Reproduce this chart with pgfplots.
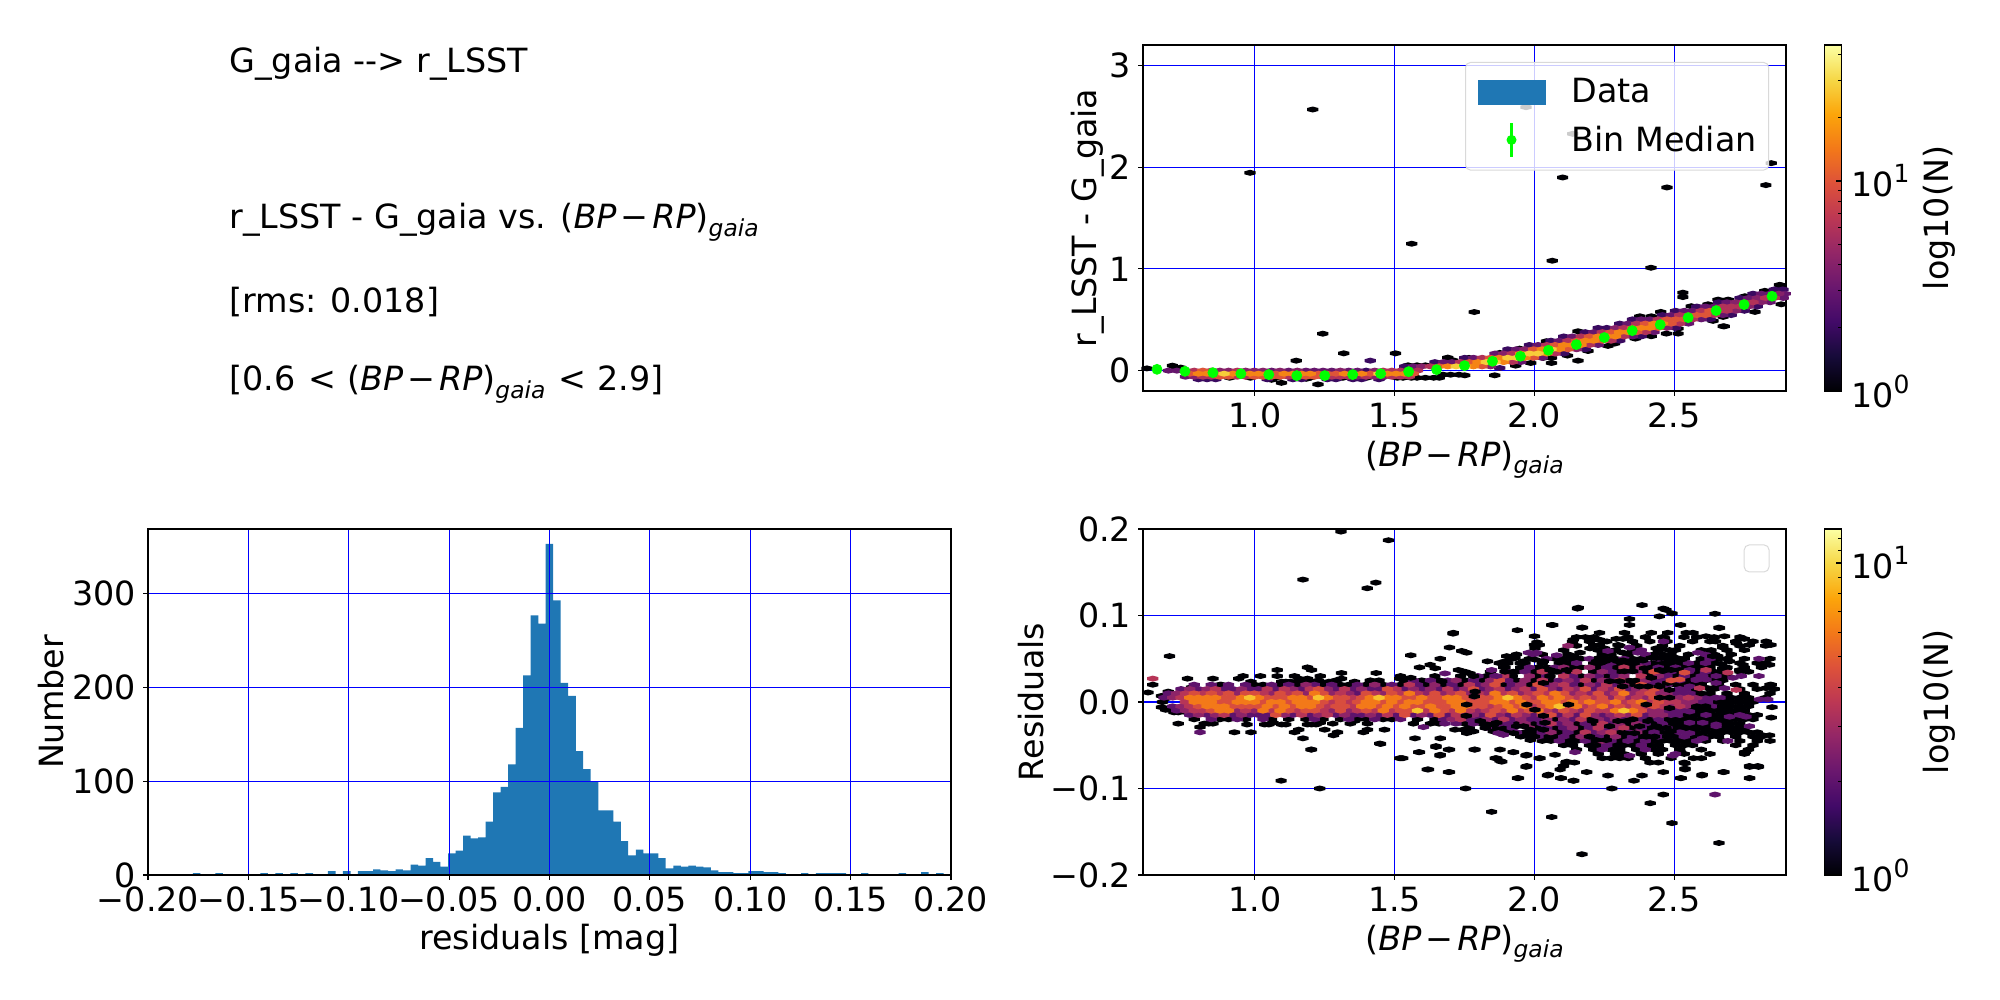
\documentclass[border=0pt]{standalone}
\usepackage{fontspec}
\setmainfont{DejaVu Sans}
\usepackage{pgfplots}
\pgfplotsset{compat=1.18}
\newcommand\fs{\fontsize{16.67pt}{20pt}\selectfont}
\newcommand\fsm{\fontsize{11.7pt}{12pt}\selectfont}
\newcommand\bprp{(\textit{BP}\hspace{.12em}−\hspace{.12em}\textit{RP})\raisebox{-.22em}{\fsm\textit{gaia}}}
\newcommand\tenp[1]{10\raisebox{.42em}{\fontsize{12.5pt}{13pt}\selectfont #1}}
\definecolor{tabblue}{RGB}{31,119,180}
\pgfdeclareplotmark{hexb}{%
  \pgfpathmoveto{\pgfqpoint{2.8pt}{-.75pt}}\pgfpathlineto{\pgfqpoint{2.8pt}{.75pt}}%
  \pgfpathlineto{\pgfqpoint{0pt}{1.5pt}}\pgfpathlineto{\pgfqpoint{-2.8pt}{.75pt}}%
  \pgfpathlineto{\pgfqpoint{-2.8pt}{-.75pt}}\pgfpathlineto{\pgfqpoint{0pt}{-1.5pt}}%
  \pgfpathclose\pgfusepathqfill}
\pgfplotsset{
  colormap={inferno}{rgb255=(0,0,4) rgb255=(22,11,57) rgb255=(66,10,104) rgb255=(106,23,110) rgb255=(147,38,103) rgb255=(188,55,84) rgb255=(221,81,58) rgb255=(243,120,25) rgb255=(252,165,10) rgb255=(246,215,70) rgb255=(252,255,164)},
  tick label style={font=\fs},
  label style={font=\fs},
  hx/.style={scatter, only marks, mark=hexb, point meta=#1},
  panel/.style={
    scale only axis, anchor=south west,
    tick align=outside, major tick length=2.45pt,
    tick style={black, line width=.55pt},
    axis line style={line width=.55pt},
    xtick pos=bottom, ytick pos=left,
    grid=major, grid style={blue, line width=.6pt},
    axis on top,
  },
  cbar/.style={
    colorbar,
    colorbar style={
      at={(parent axis.south east)}, anchor=south west, xshift=10.5pt,
      width=8.5pt, height=173pt,
      scale only axis,
      axis line style={line width=.55pt},
      tick style={black, line width=.55pt},
      major tick length=2.45pt, minor tick length=1.4pt,
      ytick pos=right, yticklabel pos=right,
      tick label style={font=\fs, xshift=1.5pt},
      ylabel={log10(N)},
      ylabel style={font=\fs, at={(axis description cs:6.8,.5)}, anchor=center},
      #1
    },
  },
}
\begin{document}
\begin{tikzpicture}
\useasboundingbox (0,0) rectangle (1000pt,500pt);

\node[anchor=base west, font=\fs, inner sep=0pt] at (114.5pt,463.65pt) {G\_gaia -{}-{}> r\_LSST};
\node[anchor=base west, font=\fs, inner sep=0pt] at (114.5pt,385.5pt) {r\_LSST - G\_gaia vs. \bprp};
\node[anchor=base west, font=\fs, inner sep=0pt] at (114.5pt,343.5pt) {[rms: 0.018]};
\node[anchor=base west, font=\fs, inner sep=0pt] at (114.5pt,304.65pt) {[0.6\hspace{.08em} < \bprp{}\hspace{.08em} < 2.9]};

% histogram of residuals
\begin{axis}[panel, at={(74pt,62.5pt)}, width=401.5pt, height=173pt,
  xmin=-0.2, xmax=0.2, ymin=0, ymax=369,
  xtick={-0.2,-0.15,-0.1,-0.05,0,0.05,0.1,0.15,0.2},
  xticklabels={−0.20,−0.15,−0.10,−0.05,0.00,0.05,0.10,0.15,0.20},
  ytick={0,100,200,300}, yticklabels={0,100,200,300},
  xlabel={residuals [mag]}, ylabel={Number},
  xlabel style={at={(axis description cs:.5,-.188)}, anchor=center},
  ylabel style={at={(axis description cs:-.1208,.5)}, anchor=center},
]
\addplot[const plot, fill=tabblue, draw=none] coordinates {
(-.1814,0)(-.1777,2)(-.1739,0)(-.1702,0)(-.1665,2)(-.1627,0)(-.1590,0)(-.1553,0)(-.1515,0)(-.1478,0)
(-.1440,2)(-.1403,0)(-.1365,2)(-.1328,0)(-.1291,2)(-.1253,0)(-.1216,2)(-.1178,0)(-.1141,0)(-.1104,4)
(-.1066,0)(-.1029,4)(-.0991,0)(-.0954,4)(-.0917,4)(-.0879,6)(-.0842,5)(-.0804,4)(-.0767,6)(-.0730,5)
(-.0692,11)(-.0655,10)(-.0617,18)(-.0580,14)(-.0543,9)(-.0505,23)(-.0468,26)(-.0430,42)(-.0393,39)(-.0356,40)
(-.0318,57)(-.0281,88)(-.0243,94)(-.0206,118)(-.0169,157)(-.0131,213)(-.0094,277)(-.0056,268)(-.0019,353)(.0018,293)
(.0056,205)(.0093,191)(.0131,132)(.0168,113)(.0205,100)(.0243,69)(.0280,69)(.0318,57)(.0355,36)(.0392,21)
(.0430,27)(.0467,23)(.0505,23)(.0542,18)(.0579,7)(.0617,10)(.0654,9)(.0692,10)(.0729,9)(.0766,8)
(.0804,5)(.0841,3)(.0879,3)(.0916,2)(.0953,2)(.0991,4)(.1028,4)(.1066,3)(.1103,3)(.1140,2)
(.1178,0)(.1215,0)(.1253,2)(.1290,0)(.1327,2)(.1365,2)(.1402,2)(.1440,2)(.1477,0)(.1514,0)
(.1552,2)(.1589,0)(.1627,0)(.1664,0)(.1701,0)(.1739,2)(.1776,0)(.1814,0)(.1851,3)(.1888,0)
(.1926,2)(.1963,0)} \closedcycle;
\end{axis}

% colour vs colour, hexagon cells
\begin{axis}[panel, cbar={ytick={0,1}, yticklabels={\tenp{0},\tenp{1}}, minor ytick={.301,.477,.602,.699,.778,.845,.903,.954,1.301,1.477,1.602}},
  at={(571.5pt,304.5pt)}, width=321.5pt, height=173pt,
  xmin=0.6, xmax=2.9, ymin=-0.2, ymax=3.2,
  colormap name=inferno, point meta min=0, point meta max=1.648,
  xtick={1,1.5,2,2.5}, xticklabels={1.0,1.5,2.0,2.5},
  ytick={0,1,2,3}, yticklabels={0,1,2,3},
  xlabel={\bprp}, ylabel={r\_LSST - G\_gaia},
  xlabel style={at={(axis description cs:.5,-.198)}, anchor=center},
  ylabel style={at={(axis description cs:-.0855,.5)}, anchor=center},
]
\addplot[hx=0] coordinates {
(1.207,2.566)(.983,1.944)(1.561,1.247)(1.970,2.589)(2.137,2.327)(2.101,1.898)(2.474,1.800)(2.828,1.823)(2.847,2.039)
(2.064,1.080)(2.417,1.011)(1.785,.576)(1.243,.363)(1.318,.170)(1.148,.098)(1.503,.170)(2.531,.766)(2.531,.723)(2.882,.838)(2.679,.435)
(.614,.022)(.705,.049)(.719,.025)(.735,.03)(.779,-.05)(.91,-.07)(.984,-.07)(1.077,-.07)(1.095,-.12)(1.06,-.09)(1.184,-.08)(1.196,-.07)(1.226,-.135)
(1.315,-.07)(1.40,-.07)(1.45,-.07)(1.51,-.07)(1.56,-.07)(1.58,-.07)(1.61,-.07)(1.64,-.07)(1.66,-.07)(1.53,-.07)
(1.548,.052)(1.58,.052)(1.61,.052)(1.69,.128)(1.708,.102)(1.655,.075)(1.673,-.04)(1.70,-.04)(1.73,-.04)
(1.751,-.046)(1.858,-.046)(1.766,.125)(1.876,.174)(1.933,.049)(1.987,.075)(1.947,.216)(2.043,.289)(2.031,.125)(2.061,.125)(2.061,.075)(2.118,.148)
(2.156,.098)(2.156,.387)(2.174,.364)(2.192,.193)(2.263,.243)(2.287,.266)(2.361,.315)(2.418,.338)(2.472,.364)(2.514,.364)(2.514,.413)
(2.377,.534)(2.418,.534)(2.452,.577)(2.561,.633)(2.621,.652)(2.657,.698)(2.693,.698)(2.675,.436)(2.639,.489)(2.675,.528)(2.753,.731)(2.789,.577)(2.824,.784)(2.877,.843)(2.877,.807)(2.883,.652)};
\addplot[hx=.301] coordinates {
(1.413,.098)(1.876,.026)(.798,-.085)(.829,-.085)(.860,-.085)(1.044,-.085)(1.136,-.085)(1.167,-.085)(1.259,-.085)(1.290,-.085)(1.351,-.085)(1.382,-.085)(1.444,-.085)(1.398,0)
(1.536,.042)(1.644,.084)(1.751,.126)(2.105,.168)(1.905,.21)(2.182,.21)(1.982,.252)(2.059,.294)(2.305,.294)(2.105,.336)(2.382,.336)(2.182,.378)(2.228,.42)(2.259,.42)(2.505,.42)
(2.305,.462)(2.351,.504)(2.628,.504)(2.458,.546)(2.704,.546)(2.505,.588)(2.751,.588)(2.581,.63)(2.797,.63)(2.659,.672)(2.735,.714)(2.782,.756)(2.858,.798)(2.889,.798)};
\addplot[hx=.477] coordinates {
(.691,0)(.721,0)(1.060,0)(1.121,0)(1.183,0)(1.213,0)(1.244,0)(1.275,0)(1.336,0)(1.367,0)(.752,-.06)
(1.567,.042)(1.675,.084)(1.705,.084)(1.951,.084)(1.782,.126)(2.028,.126)(1.859,.168)(1.936,.21)(2.013,.252)(2.228,.252)(2.089,.294)(2.136,.336)(2.351,.336)(2.212,.378)(2.428,.378)
(2.335,.462)(2.551,.462)(2.382,.504)(2.413,.504)(2.597,.504)(2.489,.546)(2.674,.546)(2.536,.588)(2.566,.588)(2.612,.63)(2.643,.63)(2.689,.672)(2.843,.672)(2.766,.714)(2.89,.714)(2.812,.756)(2.843,.756)(2.897,.756)};
\addplot[hx=.602] coordinates {
(.752,0)(.875,0)(.906,0)(.967,0)(.998,0)(1.029,0)(1.090,0)(1.152,0)(1.306,0)(1.429,0)(1.552,0)(.783,-.06)(1.367,-.06)(1.429,-.06)(1.459,-.06)
(1.597,.042)(1.843,.042)(1.890,.168)(1.966,.21)(2.151,.21)(2.290,.42)(2.474,.42)(2.720,.588)(2.766,.63)(2.720,.672)(2.812,.672)(2.797,.714)(2.874,.756)};
\addplot[hx=.78] coordinates {
(.783,0)(.844,0)(.937,0)(1.459,0)(1.490,0)(1.521,0)(1.582,0)
(.814,-.06)(.844,-.06)(.937,-.06)(.967,-.06)(1.121,-.06)(1.244,-.06)(1.275,-.06)(1.306,-.06)(1.336,-.06)(1.398,-.06)(1.490,-.06)(1.521,-.06)(1.552,-.06)
(1.628,.042)(1.736,.084)(1.921,.084)(1.813,.126)(1.921,.168)(2.074,.168)(2.044,.252)(2.197,.252)(2.120,.294)(2.274,.294)(2.167,.336)(2.320,.336)(2.243,.378)(2.397,.378)(2.320,.42)
(2.366,.462)(2.520,.462)(2.443,.504)(2.566,.504)(2.520,.546)(2.551,.546)(2.643,.546)(2.597,.588)(2.659,.588)(2.689,.588)(2.674,.63)(2.704,.63)(2.735,.63)(2.751,.672)(2.782,.672)(2.827,.714)(2.858,.714)};
\addplot[hx=1.0] coordinates {
(.814,0)(.767,-.03)(.859,-.03)(1.075,-.03)(1.228,-.03)(1.259,-.03)(1.290,-.03)(1.351,-.03)(1.413,-.03)(1.567,-.03)
(.875,-.06)(.906,-.06)(.998,-.06)(1.029,-.06)(1.060,-.06)(1.090,-.06)(1.152,-.06)(1.183,-.06)(1.213,-.06)
(1.659,.042)(1.813,.042)(1.767,.084)(1.843,.126)(1.997,.126)(1.997,.21)(2.120,.21)(2.074,.252)(2.151,.294)(2.243,.294)(2.197,.336)(2.274,.378)(2.366,.378)(2.351,.42)(2.443,.42)
(2.397,.462)(2.489,.462)(2.474,.504)(2.505,.504)(2.536,.504)(2.581,.546)(2.612,.546)(2.628,.588)};
\addplot[hx=1.2] coordinates {
(.798,-.03)(.829,-.03)(.921,-.03)(.952,-.03)(.982,-.03)(1.013,-.03)(1.044,-.03)(1.105,-.03)(1.136,-.03)(1.167,-.03)(1.198,-.03)(1.321,-.03)(1.382,-.03)(1.474,-.03)(1.505,-.03)(1.536,-.03)
(1.690,.042)(1.782,.042)(1.798,.084)(1.890,.084)(1.874,.126)(1.966,.126)(1.951,.168)(2.044,.168)(2.028,.21)(2.089,.21)(2.105,.252)(2.136,.252)(2.167,.252)(2.182,.294)(2.212,.294)
(2.228,.336)(2.259,.336)(2.290,.336)(2.305,.378)(2.335,.378)(2.382,.42)(2.413,.42)(2.428,.462)(2.458,.462)};
\addplot[hx=1.45] coordinates {
(.890,-.03)(1.444,-.03)(1.720,.042)(1.751,.042)(1.828,.084)(1.859,.084)(1.905,.126)(1.936,.126)(1.982,.168)(2.013,.168)(2.059,.21)};
\end{axis}

% bin medians and legend sit above the grid lines
\begin{axis}[scale only axis, anchor=south west, hide axis,
  at={(571.5pt,304.5pt)}, width=321.5pt, height=173pt,
  xmin=0.6, xmax=2.9, ymin=-0.2, ymax=3.2,
  legend style={at={(.5008,.951)}, anchor=north west, draw=black!15, line width=.5pt, rounded corners=2.5pt,
    fill=white, fill opacity=.8, text opacity=1, font=\fs,
    inner xsep=4pt, inner ysep=6pt, row sep=6pt},
  legend cell align=left,
]
\addlegendimage{legend image code/.code={\fill[tabblue, sharp corners, draw=none, fill opacity=1] (2pt,-6.25pt) rectangle (36pt,6.25pt); \path[draw=none, fill=none] (0pt,0pt)--(47pt,0pt);}}
\addlegendentry{Data}
\addplot[only marks, mark=*, mark size=2.5pt, color=green, mark options={fill=green, draw=green},
  error bars/.cd, y dir=both, y explicit, error bar style={line width=1.1pt, green}, error mark=none,
  /pgfplots/legend image code/.code={\draw[green,line width=1.1pt, draw opacity=1] (19pt,-8.3pt)--(19pt,8.3pt); \fill[green, draw=none, fill opacity=1] (19pt,0pt) circle (2.5pt); \path[draw=none, fill=none] (0pt,0pt)--(47pt,0pt);}]
coordinates {
(.65,.013)+-(0,.02)(.75,-.007)+-(0,.02)(.85,-.020)+-(0,.02)(.95,-.030)+-(0,.02)(1.05,-.039)+-(0,.02)(1.15,-.049)+-(0,.02)
(1.25,-.049)+-(0,.02)(1.35,-.039)+-(0,.02)(1.45,-.030)+-(0,.02)(1.55,-.010)+-(0,.02)(1.65,.010)+-(0,.02)(1.75,.049)+-(0,.02)
(1.85,.092)+-(0,.02)(1.95,.141)+-(0,.02)(2.05,.200)+-(0,.02)(2.15,.256)+-(0,.02)(2.25,.325)+-(0,.02)(2.35,.393)+-(0,.02)
(2.45,.452)+-(0,.02)(2.55,.521)+-(0,.02)(2.65,.590)+-(0,.02)(2.75,.649)+-(0,.02)(2.85,.731)+-(0,.02)};
\addlegendentry{Bin Median}
\end{axis}

% residuals
\begin{axis}[panel, cbar={ytick={0,1}, yticklabels={\tenp{0},\tenp{1}}, minor ytick={.301,.477,.602,.699,.778,.845,.903,.954,1.041,1.079}},
  at={(571.5pt,62.5pt)}, width=321.5pt, height=173pt,
  xmin=0.6, xmax=2.9, ymin=-0.2, ymax=0.2,
  colormap name=inferno, point meta min=0, point meta max=1.109,
  xtick={1,1.5,2,2.5}, xticklabels={1.0,1.5,2.0,2.5},
  ytick={-.2,-.1,0,.1,.2}, yticklabels={−0.2,−0.1,0.0,0.1,0.2},
  xlabel={\bprp}, ylabel={Residuals},
  xlabel style={at={(axis description cs:.5,-.198)}, anchor=center},
  ylabel style={at={(axis description cs:-.174,.5)}, anchor=center},
]
\addplot[hx=0] coordinates {
(1.308,.197)(1.478,.187)(1.172,.1415)(1.433,.138)(1.402,.1315)(.695,.053)(2.154,.108)(2.385,.112)(2.461,.108)(2.471,.1065)(2.492,.1025)(2.447,.099)(2.646,.102)(2.340,.096)(2.340,.089)
(2.062,.089)(2.170,.086)(2.523,.089)(2.660,.086)(1.939,.083)(1.709,.079)(2.0,.076)(2.009,.069)(2.0,.066)(2.017,.066)
(1.094,-.091)(1.232,-.100)(1.754,-.100)(2.277,-.100)(2.660,-.163)(2.170,-.176)(2.062,-.133)(1.847,-.127)(2.492,-.140)(2.414,-.117)(2.461,-.107)
(1.201,-.055)(1.523,-.065)(1.447,-.048)(1.617,-.078)(1.693,-.081)(1.662,-.062)(1.648,-.052)(1.693,-.055)(1.586,-.058)(1.785,-.055)(1.877,-.055)(1.924,-.058)(1.970,-.062)(2.017,-.065)
(1.860,-.065)(1.877,-.068)(1.970,-.075)(1.939,-.088)(2.047,-.085)(2.094,-.088)(2.141,-.091)(2.187,-.081)(2.263,-.085)(2.356,-.091)(2.385,-.085)(2.461,-.081)(2.523,-.088)(2.539,-.078)
(2.599,-.085)(2.675,-.081)(2.770,-.088)(2.770,-.075)(2.802,-.075)(2.752,-.058)(2.539,-.071)(2.569,-.065)(2.523,-.058)
(.635,.020)(.618,.011)(.759,.027)(.850,.027)(.958,.030)(.942,.027)(1.020,.030)(.986,.0235)(1.080,.037)(1.080,.030)(1.188,.040)(1.203,.037)(1.142,.030)(1.234,.030)(1.310,.0335)(1.310,.027)(1.434,.0335)(1.518,.027)(1.265,.0235)(1.357,.0235)
(.726,-.025)(.804,-.029)(.927,-.035)(.986,-.035)(1.203,-.055)(1.172,-.042)(1.157,-.032)(1.142,-.035)(1.250,-.032)(1.281,-.0385)(1.296,-.035)(1.450,-.0485)(1.388,-.035)(1.403,-.032)(1.464,-.032)(1.518,-.065)(1.279,-.025)(1.341,-.025)(1.357,-.022)(1.403,-.025)
(.666,.007)(.681,.004)(.666,-.006)(.681,-.009)(.695,-.009)(.711,-.012)(.726,-.012)(.757,-.012)(.670,.0)(.69,.012)
(.773,.017)(.850,.017)(.880,.020)(1.096,.0235)(1.111,.0235)(1.127,.0235)(1.158,.027)(1.172,.0235)(1.188,.027)(1.203,.0235)(1.096,.015)
(.819,-.025)(.835,-.025)(.850,-.025)(.972,-.026)(1.035,-.026)(1.05,-.026)(1.065,-.024)(1.096,-.026)(1.111,-.026)(1.188,-.026)(1.203,-.026)(1.219,-.026)(1.234,-.024)
(.875,.02)(.998,.02)(1.029,.02)(1.090,.02)(1.152,.02)(1.244,.02)(1.306,.02)(1.336,.02)(1.398,.02)(1.459,.02)(1.521,.02)(1.613,.02)(1.675,.02)(1.736,.02)(1.890,.02)(1.982,.02)(2.167,.02)(2.351,.02)(2.443,.02)(2.505,.02)(2.536,.02)(2.566,.02)
(.783,-.02)(.875,-.02)(.906,-.02)(.967,-.02)(1.060,-.02)(1.121,-.02)(1.183,-.02)(1.244,-.02)(1.306,-.02)(1.367,-.02)(1.398,-.02)(1.459,-.02)(1.490,-.02)(1.582,-.02)(1.644,-.02)(2.074,-.02)(2.197,-.02)(2.413,-.02)(2.474,-.02)(2.505,-.02)(2.536,-.02)
(1.167,.025)(1.228,.025)(1.290,.025)(1.413,.025)(1.444,.025)(1.536,.025)(1.597,.025)(1.659,.025)(1.751,.025)(1.813,.025)(1.936,.025)(1.997,.025)(2.059,.025)(2.212,.025)(2.335,.025)(2.366,.025)(2.489,.025)(2.551,.025)(2.612,.025)(2.643,.025)(2.674,.025)
(1.567,-.025)(1.628,-.025)(1.659,-.025)(1.751,-.025)(1.813,-.025)(1.936,-.025)(1.997,-.025)(2.151,-.025)(2.212,-.025)(2.335,-.025)(2.428,-.025)(2.489,-.025)(2.520,-.025)(2.551,-.025)(2.581,-.025)(2.612,-.025)(2.643,-.025)(2.674,-.025)(2.704,-.025)(2.735,-.025)
(1.521,.03)(1.644,.03)(1.736,.03)(1.828,.03)(1.921,.03)(2.013,.03)(2.167,.03)(2.259,.03)(2.413,.03)(2.505,.03)(2.566,.03)(2.628,.03)(2.659,.03)(2.689,.03)
(1.767,-.03)(1.859,-.03)(1.890,-.03)(2.013,-.03)(2.074,-.03)(2.167,-.03)(2.351,-.03)(2.413,-.03)(2.443,-.03)(2.505,-.03)(2.536,-.03)(2.566,-.03)(2.597,-.03)(2.628,-.03)(2.659,-.03)(2.689,-.03)(2.720,-.03)(2.751,-.03)
(1.751,.035)(1.843,.035)(1.936,.035)(1.997,.035)(2.059,.035)(2.120,.035)(2.212,.035)(2.305,.035)(2.397,.035)(2.458,.035)(2.520,.035)(2.581,.035)(2.643,.035)(2.674,.035)(2.735,.035)(2.766,.035)
(1.874,-.035)(1.905,-.035)(1.966,-.035)(1.997,-.035)(2.089,-.035)(2.151,-.035)(2.305,-.035)(2.397,-.035)(2.458,-.035)(2.489,-.035)(2.551,-.035)(2.581,-.035)(2.612,-.035)(2.643,-.035)(2.674,-.035)(2.704,-.035)(2.735,-.035)(2.766,-.035)(2.797,-.035)
(1.890,.04)(1.951,.04)(2.013,.04)(2.044,.04)(2.136,.04)(2.167,.04)(2.228,.04)(2.290,.04)(2.351,.04)(2.413,.04)(2.474,.04)(2.536,.04)(2.566,.04)(2.597,.04)(2.628,.04)(2.689,.04)(2.751,.04)(2.812,.04)
(1.951,-.04)(1.982,-.04)(2.044,-.04)(2.074,-.04)(2.136,-.04)(2.197,-.04)(2.259,-.04)(2.320,-.04)(2.382,-.04)(2.413,-.04)(2.474,-.04)(2.505,-.04)(2.566,-.04)(2.597,-.04)(2.628,-.04)(2.659,-.04)(2.720,-.04)(2.782,-.04)(2.812,-.04)
(1.874,.045)(1.905,.045)(1.966,.045)(2.028,.045)(2.089,.045)(2.120,.045)(2.212,.045)(2.243,.045)(2.305,.045)(2.335,.045)(2.366,.045)(2.428,.045)(2.458,.045)(2.489,.045)(2.520,.045)(2.581,.045)(2.643,.045)(2.735,.045)(2.797,.045)(2.827,.045)
(2.028,-.045)(2.059,-.045)(2.120,-.045)(2.151,-.045)(2.212,-.045)(2.305,-.045)(2.366,-.045)(2.428,-.045)(2.458,-.045)(2.489,-.045)(2.520,-.045)(2.551,-.045)(2.612,-.045)(2.674,-.045)(2.735,-.045)(2.797,-.045)(2.843,-.045)
(1.921,.05)(1.982,.05)(2.074,.05)(2.105,.05)(2.136,.05)(2.167,.05)(2.228,.05)(2.259,.05)(2.290,.05)(2.351,.05)(2.382,.05)(2.474,.05)(2.505,.05)(2.536,.05)(2.597,.05)(2.659,.05)(2.689,.05)(2.751,.05)(2.843,.05)
(2.105,-.05)(2.136,-.05)(2.197,-.05)(2.228,-.05)(2.290,-.05)(2.320,-.05)(2.351,-.05)(2.413,-.05)(2.443,-.05)(2.505,-.05)(2.536,-.05)(2.566,-.05)(2.720,-.05)(2.782,-.05)
(1.936,.055)(2.028,.055)(2.120,.055)(2.243,.055)(2.274,.055)(2.335,.055)(2.428,.055)(2.458,.055)(2.489,.055)(2.551,.055)(2.643,.055)(2.704,.055)
(2.151,-.055)(2.212,-.055)(2.274,-.055)(2.305,-.055)(2.366,-.055)(2.428,-.055)(2.458,-.055)(2.520,-.055)(2.597,-.055)(2.766,-.055)
(2.105,.06)(2.228,.06)(2.290,.06)(2.351,.06)(2.443,.06)(2.505,.06)(2.597,.06)(2.689,.06)(2.751,.06)
(2.228,-.06)(2.290,-.06)(2.320,-.06)(2.382,-.06)(2.443,-.06)(2.536,-.06)(2.628,-.06)(2.751,-.06)
(2.151,.065)(2.212,.065)(2.305,.065)(2.366,.065)(2.458,.065)(2.520,.065)(2.674,.065)(2.735,.065)(2.827,.065)
(2.243,-.065)(2.274,-.065)(2.305,-.065)(2.335,-.065)(2.397,-.065)(2.489,-.065)(2.597,-.065)
(2.136,.07)(2.197,.07)(2.259,.07)(2.351,.07)(2.413,.07)(2.474,.07)(2.566,.07)(2.628,.07)(2.720,.07)(2.782,.07)
(2.151,.075)(2.182,.075)(2.212,.075)(2.335,.075)(2.397,.075)(2.458,.075)(2.535,.075)(2.581,.075)(2.643,.075)(2.735,.075)
(2.413,-.07)(2.443,-.07)(2.536,-.07)(2.113,-.07)(2.143,-.07)};
\addplot[hx=.301] coordinates {
(2.646,-.107)(.804,-.035)
(2.597,0)(2.628,0)(.675,.005)(2.612,.005)(2.643,.005)(2.674,.005)(.706,-.005)(2.612,-.005)(2.643,-.005)(.691,.01)(1.367,.01)(2.505,.01)(2.536,.01)(2.566,.01)(.721,-.01)(2.474,-.01)(2.505,-.01)(2.536,-.01)
(.736,.015)(.798,.015)(.890,.015)(.921,.015)(.982,.015)(1.013,.015)(1.075,.015)(1.167,.015)(1.290,.015)(1.351,.015)(1.413,.015)(1.444,.015)(1.536,.015)(1.597,.015)(1.659,.015)(1.720,.015)(1.813,.015)(1.905,.015)(1.997,.015)(2.089,.015)(2.212,.015)(2.335,.015)(2.520,.015)(2.551,.015)
(.767,-.015)(.829,-.015)(.921,-.015)(.982,-.015)(1.013,-.015)(1.044,-.015)(1.136,-.015)(1.198,-.015)(1.290,-.015)(1.351,-.015)(1.382,-.015)(1.444,-.015)(1.505,-.015)(1.567,-.015)(1.628,-.015)(1.690,-.015)(1.751,-.015)(1.813,-.015)(1.905,-.015)(1.997,-.015)(2.089,-.015)(2.151,-.015)(2.243,-.015)(2.397,-.015)(2.489,-.015)(2.520,-.015)
(.783,.02)(.844,.02)(.906,.02)(.967,.02)(1.060,.02)(1.121,.02)(1.213,.02)(1.275,.02)(1.367,.02)(1.490,.02)(1.582,.02)(1.705,.02)(1.798,.02)(1.921,.02)(2.044,.02)(2.136,.02)(2.228,.02)(2.290,.02)(2.413,.02)(2.474,.02)
(.844,-.02)(.937,-.02)(1.029,-.02)(1.213,-.02)(1.336,-.02)(1.429,-.02)(1.521,-.02)(1.675,-.02)(1.767,-.02)(1.798,-.02)(1.859,-.02)(1.921,-.02)(1.982,-.02)(2.013,-.02)(2.136,-.02)(2.259,-.02)(2.320,-.02)(2.382,-.02)(2.443,-.02)
(1.567,.025)(1.628,.025)(1.690,.025)(1.782,.025)(1.905,.025)(2.089,.025)(2.151,.025)(2.274,.025)(2.428,.025)(2.458,.025)(2.520,.025)(2.581,.025)
(1.720,-.025)(1.782,-.025)(1.874,-.025)(1.905,-.025)(2.028,-.025)(2.089,-.025)(2.182,-.025)(2.274,-.025)(2.397,-.025)(2.458,-.025)
(1.798,.03)(1.859,.03)(2.044,.03)(2.136,.03)(2.228,.03)(2.290,.03)(2.474,.03)(2.536,.03)(2.597,.03)
(1.828,-.03)(1.921,-.03)(2.044,-.03)(2.105,-.03)(2.197,-.03)(2.259,-.03)(2.382,-.03)(2.474,-.03)
(1.905,.035)(1.966,.035)(2.089,.035)(2.274,.035)(2.335,.035)(2.489,.035)(2.551,.035)(2.612,.035)
(1.936,-.035)(2.028,-.035)(2.120,-.035)(2.212,-.035)(2.335,-.035)(2.428,-.035)(2.520,-.035)
(1.982,.04)(2.074,.04)(2.259,.04)(2.443,.04)(2.505,.04)(2.013,-.04)(2.105,-.04)(2.228,-.04)(2.351,-.04)(2.443,-.04)(2.536,-.04)
(2.151,.045)(2.274,.045)(2.397,.045)(2.551,.045)(2.612,.045)(2.089,-.045)(2.182,-.045)(2.274,-.045)(2.335,-.045)(2.397,-.045)(2.581,-.045)
(2.044,.05)(2.197,.05)(2.320,.05)(2.443,.05)(2.628,.05)(2.259,-.05)(2.382,-.05)(1.997,.055)(2.397,.055)(2.612,.055)(2.243,-.055)(2.382,.06)(2.505,-.06)};
\addplot[hx=.43] coordinates {
(2.536,0)(2.566,0)(.706,.005)(2.274,.005)(2.335,.005)(2.397,.005)(2.489,.005)(2.520,.005)(2.581,.005)(.736,-.005)(2.489,-.005)(2.551,-.005)(2.581,-.005)
(.721,.01)(.937,.01)(1.060,.01)(1.183,.01)(1.275,.01)(1.336,.01)(1.459,.01)(1.613,.01)(1.675,.01)(1.767,.01)(1.828,.01)(1.951,.01)(2.136,.01)(2.197,.01)(2.259,.01)(2.351,.01)(2.443,.01)(2.474,.01)
(.752,-.01)(.937,-.01)(.998,-.01)(1.275,-.01)(1.336,-.01)(1.798,-.01)(2.074,-.01)(2.167,-.01)(2.413,-.01)(2.443,-.01)
(.767,.015)(.829,.015)(.952,.015)(1.136,.015)(1.259,.015)(1.382,.015)(1.567,.015)(1.628,.015)(1.751,.015)(1.843,.015)(1.936,.015)(2.059,.015)(2.151,.015)(2.274,.015)(2.366,.015)(2.458,.015)
(.798,-.015)(.859,-.015)(.952,-.015)(1.105,-.015)(1.228,-.015)(1.321,-.015)(1.413,-.015)(1.597,-.015)(1.782,-.015)(1.874,-.015)(1.966,-.015)(2.212,-.015)(2.274,-.015)(2.335,-.015)(2.428,-.015)(2.458,-.015)
(1.183,.02)(1.429,.02)(1.644,.02)(1.828,.02)(1.951,.02)(2.074,.02)(2.197,.02)(2.320,.02)(1.705,-.02)(1.828,-.02)(1.951,-.02)(2.044,-.02)(2.105,-.02)(2.228,-.02)(2.290,-.02)
(1.720,.025)(1.843,.025)(1.966,.025)(2.120,.025)(2.243,.025)(2.397,.025)(1.843,-.025)(1.966,-.025)(2.120,-.025)(2.305,-.025)(2.366,-.025)
(1.982,.03)(2.197,.03)(2.320,.03)(2.443,.03)(1.982,-.03)(2.136,-.03)(2.290,-.03)(2.243,.035)(2.366,.035)(2.059,-.035)(2.243,-.035)(2.366,-.035)
(2.105,.04)(2.197,.04)(2.382,.04)(2.167,-.04)(2.290,-.04)(2.243,-.045)(2.120,.065)};
\addplot[hx=.54] coordinates {
(.635,.027)(.752,0)(1.275,0)(1.336,0)(2.320,0)(2.413,0)(2.474,0)(2.505,0)(.736,.005)(1.351,.005)(1.782,.005)(1.997,.005)(2.151,.005)(2.212,.005)(2.366,.005)(2.458,.005)(2.551,.005)
(.767,-.005)(1.259,-.005)(1.351,-.005)(1.843,-.005)(1.997,-.005)(2.182,-.005)(2.274,-.005)(2.335,-.005)(2.397,-.005)(2.458,-.005)(2.520,-.005)
(.752,.01)(.814,.01)(.875,.01)(1.029,.01)(1.121,.01)(1.306,.01)(1.429,.01)(1.521,.01)(1.582,.01)(1.705,.01)(1.798,.01)(1.890,.01)(1.982,.01)(2.044,.01)(2.167,.01)(2.290,.01)(2.382,.01)
(.783,-.01)(.814,-.01)(.967,-.01)(1.060,-.01)(1.152,-.01)(1.244,-.01)(1.367,-.01)(1.429,-.01)(1.490,-.01)(1.613,-.01)(1.705,-.01)(1.767,-.01)(1.828,-.01)(1.890,-.01)(1.951,-.01)(2.044,-.01)(2.136,-.01)(2.228,-.01)(2.259,-.01)
(.859,.015)(1.044,.015)(1.105,.015)(1.198,.015)(1.321,.015)(1.505,.015)(1.690,.015)(1.874,.015)(1.966,.015)(2.120,.015)(2.243,.015)(2.397,.015)
(.890,-.015)(1.167,-.015)(1.259,-.015)(1.474,-.015)(1.720,-.015)(1.936,-.015)(2.028,-.015)(2.120,-.015)(2.305,-.015)
(1.552,.02)(1.767,.02)(2.105,.02)(2.259,.02)(1.736,-.02)(1.890,-.02)(2.167,-.02)(2.351,-.02)(2.028,.025)(2.182,.025)(2.305,.025)(2.059,-.025)(2.243,-.025)
(1.890,.03)(2.105,.03)(2.382,.03)(2.228,-.03)(2.320,-.03)(2.028,.035)(2.151,.035)(2.182,-.035)(2.274,-.035)(2.320,.04)};
\addplot[hx=.65] coordinates {
(.875,0)(.906,0)(1.029,0)(1.121,0)(1.244,0)(1.306,0)(1.367,0)(1.459,0)(1.521,0)(1.613,0)(1.644,0)(1.675,0)(1.767,0)(1.798,0)(1.828,0)(1.921,0)(1.982,0)(2.013,0)(2.105,0)(2.167,0)(2.228,0)(2.259,0)(2.351,0)(2.443,0)
(.890,.005)(.921,.005)(1.044,.005)(1.075,.005)(1.105,.005)(1.198,.005)(1.290,.005)(1.321,.005)(1.382,.005)(1.536,.005)(1.567,.005)(1.628,.005)(1.659,.005)(1.751,.005)(1.813,.005)(1.843,.005)(1.966,.005)(2.059,.005)(2.120,.005)(2.182,.005)(2.243,.005)(2.305,.005)(2.428,.005)
(.798,-.005)(.921,-.005)(.952,-.005)(.982,-.005)(1.013,-.005)(1.075,-.005)(1.136,-.005)(1.228,-.005)(1.290,-.005)(1.321,-.005)(1.444,-.005)(1.505,-.005)(1.567,-.005)(1.597,-.005)(1.659,-.005)(1.690,-.005)(1.782,-.005)(1.813,-.005)(1.874,-.005)(1.936,-.005)(2.028,-.005)(2.120,-.005)(2.212,-.005)(2.305,-.005)(2.366,-.005)(2.428,-.005)
(.783,.01)(.844,.01)(.906,.01)(.967,.01)(.998,.01)(1.090,.01)(1.152,.01)(1.244,.01)(1.398,.01)(1.490,.01)(1.644,.01)(1.736,.01)(1.921,.01)(2.013,.01)(2.105,.01)(2.228,.01)(2.413,.01)
(.844,-.01)(1.121,-.01)(1.183,-.01)(1.213,-.01)(1.306,-.01)(1.398,-.01)(1.521,-.01)(1.552,-.01)(1.675,-.01)(1.859,-.01)(1.982,-.01)(2.105,-.01)(2.197,-.01)(2.382,-.01)
(1.228,.015)(1.474,.015)(1.782,.015)(2.028,.015)(2.182,.015)(2.305,.015)(2.428,.015)(1.075,-.015)(1.536,-.015)(1.659,-.015)(1.843,-.015)(2.059,-.015)(2.182,-.015)(2.366,-.015)
(1.859,.02)(2.013,.02)(2.382,.02)(1.874,.025)(2.428,.035)};
\addplot[hx=.778] coordinates {
(.783,0)(.814,0)(.844,0)(.937,0)(.967,0)(.998,0)(1.060,0)(1.090,0)(1.152,0)(1.183,0)(1.213,0)(1.398,0)(1.429,0)(1.490,0)(1.552,0)(1.582,0)(1.705,0)(1.736,0)(1.859,0)(1.890,0)(1.951,0)(2.044,0)(2.074,0)(2.136,0)(2.197,0)(2.290,0)(2.382,0)
(.767,.005)(.798,.005)(.829,.005)(.859,.005)(.952,.005)(1.013,.005)(1.136,.005)(1.167,.005)(1.259,.005)(1.413,.005)(1.474,.005)(1.505,.005)(1.597,.005)(1.690,.005)(1.720,.005)(1.874,.005)(1.936,.005)(2.028,.005)(2.089,.005)
(.829,-.005)(.859,-.005)(.890,-.005)(1.044,-.005)(1.105,-.005)(1.167,-.005)(1.198,-.005)(1.382,-.005)(1.413,-.005)(1.474,-.005)(1.536,-.005)(1.628,-.005)(1.720,-.005)(1.751,-.005)(1.905,-.005)(1.966,-.005)(2.059,-.005)(2.151,-.005)(2.243,-.005)
(1.213,.01)(1.552,.01)(1.859,.01)(2.074,.01)(2.320,.01)
(.875,-.01)(.906,-.01)(1.029,-.01)(1.090,-.01)(1.459,-.01)(1.644,-.01)(1.736,-.01)(1.921,-.01)(2.013,-.01)(2.290,-.01)(2.351,-.01)};
\addplot[hx=.954] coordinates {
(.982,.005)(1.228,.005)(1.444,.005)(1.905,.005)(2.089,-.005)(1.582,-.01)(2.320,-.01)};
% cells read on the crowded right side, drawn after the band
\addplot[hx=0] coordinates {
(2.566,-.01)(2.597,-.01)(2.628,-.01)(2.659,-.01)(2.689,-.01)(2.720,-.01)(2.751,-.01)(2.581,-.005)(2.612,-.005)(2.674,-.005)(2.704,-.005)(2.735,-.005)(2.766,-.005)
(2.551,-.015)(2.581,-.015)(2.612,-.015)(2.643,-.015)(2.674,-.015)(2.704,-.015)(2.735,-.015)(2.766,-.015)(2.797,-.015)(2.566,-.02)(2.597,-.02)(2.628,-.02)(2.659,-.02)(2.689,-.02)(2.720,-.02)(2.751,-.02)(2.782,-.02)
(2.659,0)(2.689,0)(2.720,0)(2.751,0)(2.782,0)(2.704,.005)(2.735,.005)(2.766,.005)(2.827,.005)(2.597,.01)(2.628,.01)(2.689,.01)(2.751,.01)(2.843,.01)(2.581,.015)(2.643,.015)(2.735,.015)(2.797,.015)(2.858,.015)(2.597,.02)(2.659,.02)(2.720,.02)(2.782,.02)(2.843,.02)
(2.846,.066)(2.829,.07)(2.751,.073)(2.769,.066)(2.722,.068)(2.817,.043)(2.841,.043)(2.734,.037)(2.746,.043)(2.847,.02)(2.829,.016)(2.85,-.006)(2.847,-.018)(2.841,-.0385)(2.817,-.0385)(2.799,-.042)(2.799,-.074)(2.769,-.074)(2.769,-.088)(2.755,-.058)(2.678,-.081)(2.6,-.084)(2.525,-.088)(2.539,-.077)
(2.233,.08)(2.322,.08)(2.418,.08)(2.477,.08)(2.465,.074)(2.543,.08)(2.567,.08)(2.614,.076)(2.662,.0855)(2.68,.076)(2.648,.07)(2.209,.072)(2.233,.072)(2.293,.073)(2.317,.073)(2.299,.066)(2.233,.066)(2.251,.062)(2.436,.062)(2.454,.062)(2.483,.06)(2.632,.06)(2.674,.063)
(2.316,.057)(2.436,.051)(2.454,.051)(2.489,.051)(2.525,.049)(2.638,.053)(2.656,.053)(2.698,.047)(2.668,.044)(2.686,.039)(2.674,.039)(2.233,.051)(2.251,.047)(2.269,.049)(2.299,.047)(2.317,.048)(2.352,.048)(2.388,.048)(2.418,.051)(2.483,.048)(2.507,.051)
(2.322,.0355)(2.352,.0355)(2.394,.039)(2.418,.028)(2.448,.037)(2.471,.037)(2.489,.037)(2.519,.037)(2.269,.024)(2.304,.024)(2.346,.024)(2.448,.018)(2.477,.022)(2.316,.018)(2.376,.018)(2.406,.018)(2.483,.014)(2.62,.016)(2.638,.016)
(2.483,-.007)(2.483,.005)(2.448,.005)(2.4,-.003)(2.352,-.02)(2.209,-.022)(2.269,-.028)(2.299,-.022)(2.328,-.022)(2.376,-.028)(2.406,-.022)(2.436,-.028)(2.471,-.03)(2.495,-.022)(2.519,-.028)(2.197,-.04)(2.221,-.044)(2.257,-.044)(2.322,-.036)(2.358,-.036)(2.4,-.04)(2.43,-.04)(2.477,-.04)(2.489,-.034)
(1.785,.0065)(1.788,.012)(1.758,-.003)(1.756,-.016)(2.002,-.009)(2.032,-.016)(2.038,-.024)(2.032,-.032)(2.0,-.04)(1.985,-.044)(1.973,-.003)(2.122,-.003)(1.895,.035)(1.925,.035)(1.961,.047)(1.931,.051)(1.949,.045)(1.901,.053)(1.895,.047)(1.895,.04)
(2.002,.049)(2.032,.047)(2.056,.037)(2.092,.049)(2.116,.037)(2.139,.053)(2.163,.057)(2.199,.062)(2.223,.047)(2.139,.072)(2.002,.062)(2.066,.089)(2.172,.086)(2.157,.109)(2.056,.03)(2.08,.035)(2.032,.022)(1.696,.063)(1.74,.059)(1.758,.057)(1.71,.08)(1.558,.054)(1.663,.05)(1.589,.04)(1.627,.043)(1.645,.039)(1.728,.037)(1.77,.033)(1.832,.047)(1.782,.03)(1.669,.024)(1.558,.028)
(1.573,-.042)(1.663,-.042)(1.589,-.058)(1.663,-.061)(1.696,-.055)(1.788,-.055)(1.648,-.051)(1.925,-.058)(1.973,-.061)(2.02,-.065)(1.865,-.065)(1.883,-.069)(2.074,-.061)(2.116,-.069)(2.104,-.074)(2.092,-.078)(1.973,-.074)(2.05,-.084)(2.096,-.088)(2.139,-.091)(1.943,-.088)(1.621,-.078)(1.696,-.081)(1.529,-.065)
(1.716,-.032)(1.746,-.032)(1.758,-.036)(1.782,-.034)(1.806,-.022)(1.83,-.026)(1.853,-.026)(1.853,-.034)(1.865,-.024)(1.937,-.028)(1.961,-.028)(1.985,-.032)(1.925,-.036)(1.824,-.03)};
\addplot[hx=.301] coordinates {
(1.603,-.029)(1.68,-.025)(1.68,.033)(1.979,.057)(2.008,.057)(2.08,.054)(1.847,.037)(1.865,.03)(2.145,-.058)(1.889,-.038)(1.871,-.036)
(2.263,.059)(2.34,.063)(2.462,.07)(2.585,.057)(2.37,.057)(2.803,.05)(2.803,.03)(2.74,.03)(2.805,.003)(2.835,.003)(2.692,-.045)(2.495,-.062)(2.34,-.062)(2.397,-.055)(2.555,-.036)(2.602,-.042)(2.769,-.028)(2.65,-.028)
(2.71,.028)(2.68,.016)(2.65,.005)(2.602,.03)(2.555,.037)(2.579,.026)(2.614,.026)(2.65,.022)(2.555,.018)(2.65,.03)(2.555,-.011)(2.614,-.015)(2.698,-.017)(2.734,-.015)(2.757,-.017)(2.555,-.024)(2.602,-.024)(2.65,-.026)};
\addplot[hx=.54] coordinates {(2.692,.034)(2.722,.014)(2.614,.037)(2.591,.016)};
\addplot[hx=.65] coordinates {(2.537,.034)(2.519,.026)(2.489,.025)};
\draw[black!15, line width=.5pt, rounded corners=2.5pt] (rel axis cs:.935,.954) rectangle (rel axis cs:.9736,.876);
\end{axis}
\end{tikzpicture}
\end{document}
